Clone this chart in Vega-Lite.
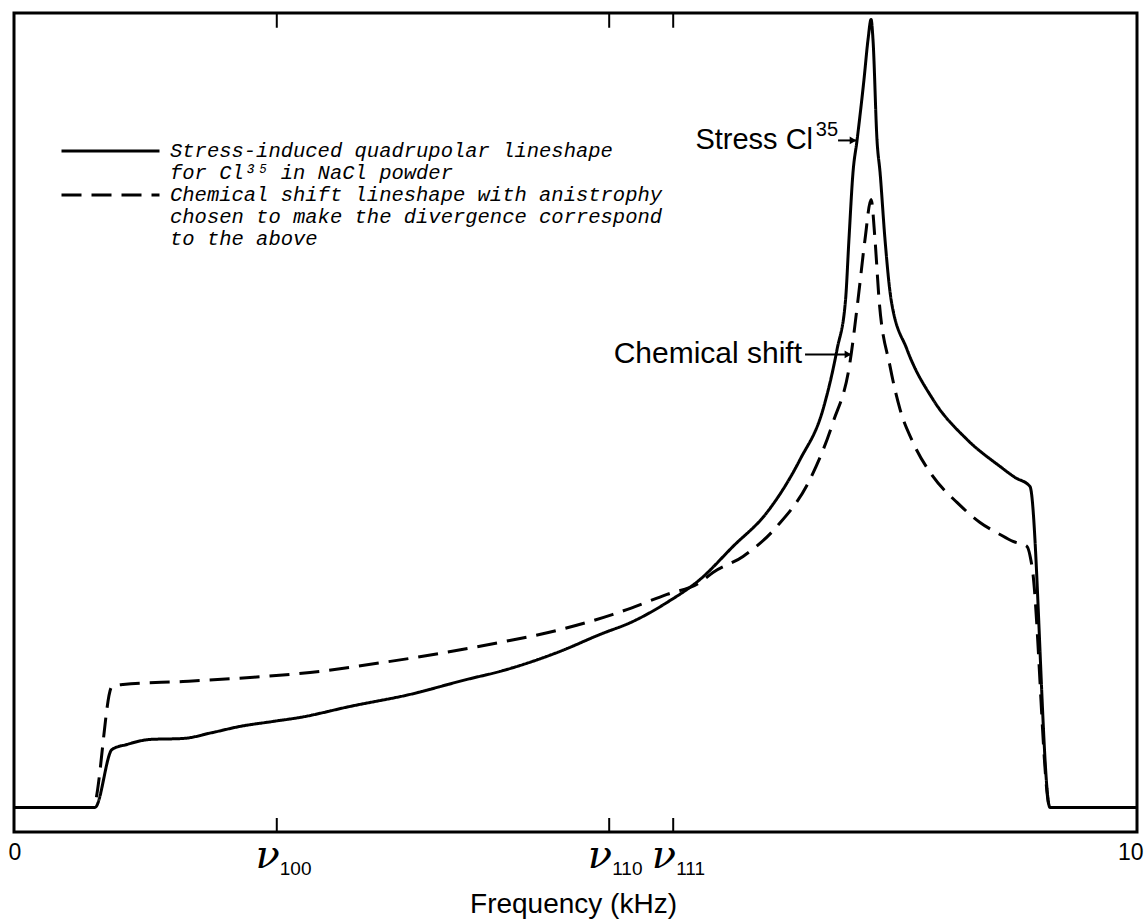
{
  "$schema": "https://vega.github.io/schema/vega-lite/v6.json",
  "width": 1123,
  "height": 819,
  "autosize": {"type": "none"},
  "padding": {"left": 14, "top": 13, "right": 7, "bottom": 90},
  "background": "white",
  "config": {
    "view": {"stroke": "black", "strokeWidth": 3},
    "font": "Liberation Sans",
    "axisX": {"labelFontSize": 23, "labelColor": "black"}
  },
  "datasets": {
    "curves": [
      {"freq": 0, "intensity": 0, "series": "stress"},
      {"freq": 0.721, "intensity": 0, "series": "stress"},
      {"freq": 0.873, "intensity": 7.08, "series": "stress"},
      {"freq": 1.006, "intensity": 7.69, "series": "stress"},
      {"freq": 1.211, "intensity": 8.3, "series": "stress"},
      {"freq": 1.505, "intensity": 8.42, "series": "stress"},
      {"freq": 1.772, "intensity": 9.16, "series": "stress"},
      {"freq": 2.012, "intensity": 9.89, "series": "stress"},
      {"freq": 2.306, "intensity": 10.5, "series": "stress"},
      {"freq": 2.547, "intensity": 10.99, "series": "stress"},
      {"freq": 2.992, "intensity": 12.33, "series": "stress"},
      {"freq": 3.526, "intensity": 13.8, "series": "stress"},
      {"freq": 4.034, "intensity": 15.63, "series": "stress"},
      {"freq": 4.328, "intensity": 16.61, "series": "stress"},
      {"freq": 4.862, "intensity": 19.05, "series": "stress"},
      {"freq": 5.218, "intensity": 21.12, "series": "stress"},
      {"freq": 5.512, "intensity": 22.71, "series": "stress"},
      {"freq": 5.815, "intensity": 25.03, "series": "stress"},
      {"freq": 6.109, "intensity": 27.84, "series": "stress"},
      {"freq": 6.403, "intensity": 31.87, "series": "stress"},
      {"freq": 6.705, "intensity": 36.02, "series": "stress"},
      {"freq": 7.0, "intensity": 42.49, "series": "stress"},
      {"freq": 7.204, "intensity": 48.6, "series": "stress"},
      {"freq": 7.329, "intensity": 55.92, "series": "stress"},
      {"freq": 7.405, "intensity": 62.03, "series": "stress"},
      {"freq": 7.435, "intensity": 69.35, "series": "stress"},
      {"freq": 7.471, "intensity": 77.53, "series": "stress"},
      {"freq": 7.507, "intensity": 81.44, "series": "stress"},
      {"freq": 7.569, "intensity": 88.89, "series": "stress"},
      {"freq": 7.605, "intensity": 93.77, "series": "stress"},
      {"freq": 7.632, "intensity": 96.21, "series": "stress"},
      {"freq": 7.649, "intensity": 93.77, "series": "stress"},
      {"freq": 7.685, "intensity": 81.44, "series": "stress"},
      {"freq": 7.712, "intensity": 77.53, "series": "stress"},
      {"freq": 7.756, "intensity": 69.35, "series": "stress"},
      {"freq": 7.81, "intensity": 62.03, "series": "stress"},
      {"freq": 7.952, "intensity": 55.92, "series": "stress"},
      {"freq": 8.183, "intensity": 49.82, "series": "stress"},
      {"freq": 8.486, "intensity": 44.93, "series": "stress"},
      {"freq": 8.78, "intensity": 41.64, "series": "stress"},
      {"freq": 8.914, "intensity": 40.29, "series": "stress"},
      {"freq": 9.047, "intensity": 39.19, "series": "stress"},
      {"freq": 9.225, "intensity": 0, "series": "stress"},
      {"freq": 10, "intensity": 0, "series": "stress"},
      {"freq": 0, "intensity": 0, "series": "chem"},
      {"freq": 0.703, "intensity": 0, "series": "chem"},
      {"freq": 0.873, "intensity": 14.77, "series": "chem"},
      {"freq": 0.971, "intensity": 15.02, "series": "chem"},
      {"freq": 1.505, "intensity": 15.38, "series": "chem"},
      {"freq": 2.101, "intensity": 15.87, "series": "chem"},
      {"freq": 2.636, "intensity": 16.48, "series": "chem"},
      {"freq": 3.286, "intensity": 17.7, "series": "chem"},
      {"freq": 3.793, "intensity": 18.8, "series": "chem"},
      {"freq": 4.328, "intensity": 20.15, "series": "chem"},
      {"freq": 4.835, "intensity": 21.61, "series": "chem"},
      {"freq": 5.334, "intensity": 23.57, "series": "chem"},
      {"freq": 5.815, "intensity": 26.01, "series": "chem"},
      {"freq": 6.109, "intensity": 27.47, "series": "chem"},
      {"freq": 6.224, "intensity": 28.69, "series": "chem"},
      {"freq": 6.492, "intensity": 30.65, "series": "chem"},
      {"freq": 6.794, "intensity": 34.31, "series": "chem"},
      {"freq": 7.088, "intensity": 40.05, "series": "chem"},
      {"freq": 7.293, "intensity": 47.01, "series": "chem"},
      {"freq": 7.444, "intensity": 54.33, "series": "chem"},
      {"freq": 7.516, "intensity": 62.03, "series": "chem"},
      {"freq": 7.578, "intensity": 69.35, "series": "chem"},
      {"freq": 7.632, "intensity": 74.24, "series": "chem"},
      {"freq": 7.667, "intensity": 69.35, "series": "chem"},
      {"freq": 7.703, "intensity": 62.03, "series": "chem"},
      {"freq": 7.801, "intensity": 53.85, "series": "chem"},
      {"freq": 7.89, "intensity": 48.6, "series": "chem"},
      {"freq": 8.005, "intensity": 44.57, "series": "chem"},
      {"freq": 8.183, "intensity": 40.42, "series": "chem"},
      {"freq": 8.397, "intensity": 37.24, "series": "chem"},
      {"freq": 8.602, "intensity": 34.8, "series": "chem"},
      {"freq": 8.78, "intensity": 33.33, "series": "chem"},
      {"freq": 8.896, "intensity": 32.48, "series": "chem"},
      {"freq": 9.02, "intensity": 31.87, "series": "chem"},
      {"freq": 9.065, "intensity": 29.43, "series": "chem"},
      {"freq": 9.225, "intensity": 0, "series": "chem"},
      {"freq": 10, "intensity": 0, "series": "chem"}
    ],
    "marks": [
      {"freq": 2.34, "sub": "100"},
      {"freq": 5.3, "sub": "110"},
      {"freq": 5.87, "sub": "111"}
    ],
    "notes": [
      {"tip": 7.507, "tail": 7.338, "level": 81.44, "text": "Stress Cl", "sup": "35"},
      {"tip": 7.462, "tail": 7.044, "level": 55.31, "text": "Chemical shift", "sup": ""}
    ]
  },
  "layer": [
    {
      "data": {"name": "curves"},
      "mark": {"type": "line", "strokeWidth": 3, "color": "black", "interpolate": "monotone"},
      "encoding": {
        "x": {
          "field": "freq", "type": "quantitative",
          "scale": {"domain": [0, 10], "nice": false, "zero": false},
          "axis": {
            "values": [0, 10],
            "labelExpr": "datum.value == 0 ? '0' : '10'",
            "ticks": false, "domain": false, "grid": false,
            "labelFontSize": 23, "labelPadding": 9, "labelColor": "black",
            "labelFlush": true, "labelFlushOffset": 6,
            "title": "Frequency (kHz)",
            "titleFontSize": 28, "titleFontWeight": "normal", "titleColor": "black",
            "titleBaseline": "alphabetic", "titleY": 80, "titleX": 559, "titleAlign": "center"
          }
        },
        "y": {
          "field": "intensity", "type": "quantitative",
          "scale": {"domain": [-3, 97], "nice": false, "zero": false},
          "axis": null
        },
        "strokeDash": {
          "field": "series", "type": "nominal",
          "scale": {
            "domain": ["stress", "stress2", "chem", "chem2", "chem3"],
            "range": [[1, 0], [0, 1000], [20, 10], [0, 1000], [0, 1000]]
          },
          "legend": {
            "orient": "none", "legendX": 46, "legendY": 127.25, "title": null,
            "padding": 0, "rowPadding": 0, "clipHeight": 21.5,
            "symbolType": "stroke", "symbolSize": 9604, "symbolStrokeWidth": 3,
            "symbolStrokeColor": "black",
            "labelFont": "Liberation Mono", "labelFontStyle": "italic", "labelFontSize": 20.5,
            "labelColor": "black", "labelOffset": 9, "labelLimit": 1000, "labelBaseline": "middle",
            "labelExpr": "datum.value == 'stress' ? 'Stress-induced quadrupolar lineshape' : datum.value == 'stress2' ? 'for Cl³⁵ in NaCl powder' : datum.value == 'chem' ? 'Chemical shift lineshape with anistrophy' : datum.value == 'chem2' ? 'chosen to make the divergence correspond' : 'to the above'"
          }
        }
      }
    },
    {
      "data": {"name": "marks"},
      "mark": {"type": "rule", "strokeWidth": 2, "color": "black"},
      "encoding": {
        "x": {"field": "freq", "type": "quantitative"},
        "y": {"datum": -3},
        "y2": {"datum": -1.29}
      }
    },
    {
      "data": {"name": "marks"},
      "mark": {"type": "rule", "strokeWidth": 2, "color": "black"},
      "encoding": {
        "x": {"field": "freq", "type": "quantitative"},
        "y": {"datum": 97},
        "y2": {"datum": 95.2}
      }
    },
    {
      "data": {"name": "marks"},
      "mark": {"type": "text", "font": "DejaVu Serif", "fontStyle": "italic", "fontSize": 40, "align": "right", "baseline": "alphabetic", "dx": 3, "dy": 36, "color": "black"},
      "encoding": {
        "x": {"field": "freq", "type": "quantitative"},
        "y": {"datum": -3},
        "text": {"value": "ν"}
      }
    },
    {
      "data": {"name": "marks"},
      "mark": {"type": "text", "font": "Liberation Sans Narrow, Liberation Sans", "fontSize": 19, "align": "left", "baseline": "alphabetic", "dx": 3, "dy": 43, "color": "black"},
      "encoding": {
        "x": {"field": "freq", "type": "quantitative"},
        "y": {"datum": -3},
        "text": {"field": "sub"}
      }
    },
    {
      "data": {"name": "notes"},
      "mark": {"type": "rule", "strokeWidth": 2, "color": "black"},
      "encoding": {
        "x": {"field": "tail", "type": "quantitative"},
        "x2": {"field": "tip"},
        "y": {"field": "level", "type": "quantitative"}
      }
    },
    {
      "data": {"name": "notes"},
      "mark": {"type": "point", "shape": "triangle-right", "filled": true, "size": 60, "color": "black", "opacity": 1},
      "encoding": {
        "x": {"field": "tip", "type": "quantitative"},
        "xOffset": {"value": -4},
        "y": {"field": "level", "type": "quantitative"}
      }
    },
    {
      "data": {"name": "notes"},
      "transform": [{"filter": "datum.sup != ''"}],
      "mark": {"type": "text", "fontSize": 29, "align": "right", "baseline": "middle", "dx": -25, "color": "black"},
      "encoding": {
        "x": {"field": "tail", "type": "quantitative"},
        "y": {"field": "level", "type": "quantitative"},
        "text": {"field": "text"}
      }
    },
    {
      "data": {"name": "notes"},
      "transform": [{"filter": "datum.sup != ''"}],
      "mark": {"type": "text", "fontSize": 20, "align": "right", "baseline": "alphabetic", "dx": 0, "dy": -4, "color": "black"},
      "encoding": {
        "x": {"field": "tail", "type": "quantitative"},
        "y": {"field": "level", "type": "quantitative"},
        "text": {"field": "sup"}
      }
    },
    {
      "data": {"name": "notes"},
      "transform": [{"filter": "datum.sup == ''"}],
      "mark": {"type": "text", "fontSize": 30, "align": "right", "baseline": "middle", "dx": -3, "color": "black"},
      "encoding": {
        "x": {"field": "tail", "type": "quantitative"},
        "y": {"field": "level", "type": "quantitative"},
        "text": {"field": "text"}
      }
    }
  ]
}
